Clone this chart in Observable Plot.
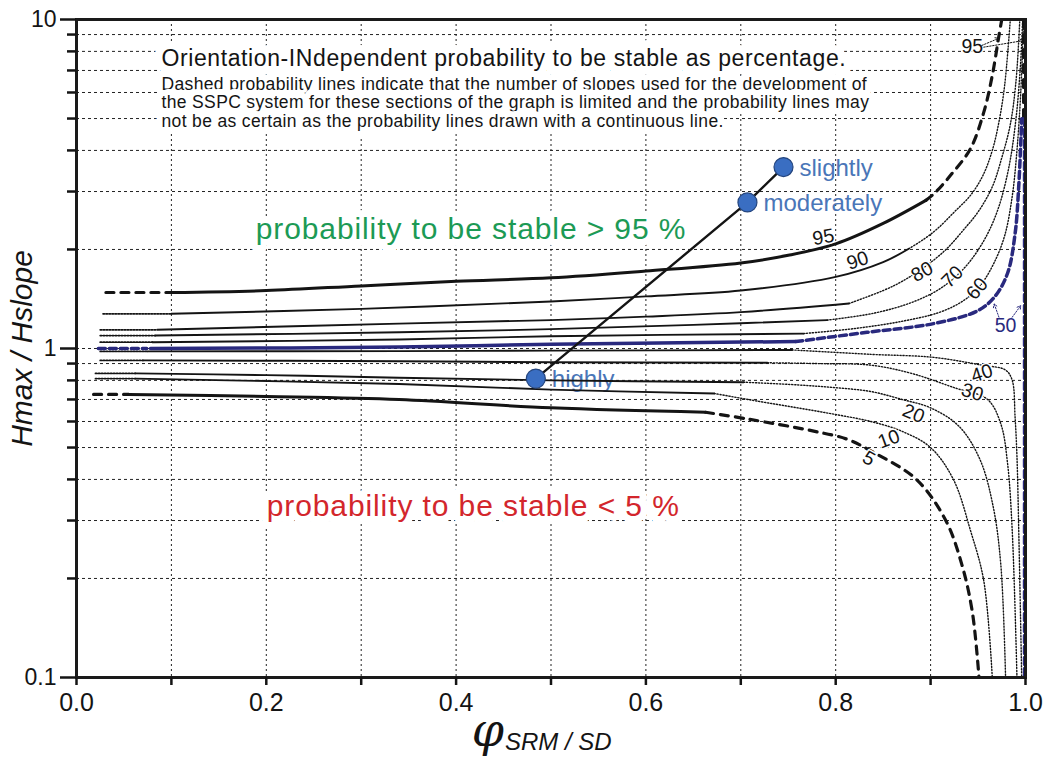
<!DOCTYPE html>
<html>
<head>
<meta charset="utf-8">
<script src="https://cdn.jsdelivr.net/npm/d3@7"></script>
<script src="https://cdn.jsdelivr.net/npm/@observablehq/plot@0.6"></script>
<style>
  body { margin: 0; background: #fff; }
  svg { display: block; }
</style>
</head>
<body>
<div id="chart"></div>
<script>
// ---------------- data ----------------
const xGrid = [0.1,0.2,0.3,0.4,0.5,0.6,0.7,0.8,0.9];
const yGrid = [0.2,0.3,0.4,0.5,0.6,0.7,0.8,0.9,1,2,3,4,5,6,7,8,9];
const yMinorTicks = [0.2,0.3,0.4,0.5,0.6,0.7,0.8,0.9,2,3,4,5,6,7,8,9];
const yMajorTicks = [0.1,1,10];
const xMajorTicks = [0,0.2,0.4,0.6,0.8,1.0];
const xMinorTicks = [0.1,0.3,0.5,0.7,0.9];

// 95 %
const c95_left  = [[0.031,1.48],[0.1,1.48]];
const c95_mid   = [[0.1,1.48],[0.2,1.50],[0.3,1.55],[0.4,1.60],[0.5,1.64],[0.6,1.72],[0.7,1.82],[0.75,1.92],[0.8,2.08],[0.85,2.40],[0.895,2.82]];
const c95_right = [[0.895,2.82],[0.905,2.98],[0.921,3.36],[0.942,4.05],[0.956,5.22],[0.965,6.76],[0.972,8.93],[0.975,10]];
const c95_edge  = [[0.998,10],[0.998,5.0]];
// 90 %
const c90_left  = [[0.028,1.275],[0.1,1.275]];
const c90_mid   = [[0.1,1.275],[0.3,1.32],[0.5,1.39],[0.6,1.44],[0.7,1.50],[0.8,1.65],[0.85,1.83],[0.877,2.01]];
const c90_right = [[0.877,2.01],[0.893,2.15],[0.907,2.31],[0.925,2.6],[0.942,2.92],[0.955,3.35],[0.965,4.0],[0.972,4.88],[0.978,6.3],[0.984,10]];
// 80 %
const c80_left  = [[0.025,1.14],[0.085,1.14]];
const c80_mid   = [[0.085,1.14],[0.34,1.19],[0.5,1.22],[0.6,1.25],[0.7,1.29],[0.814,1.37]];
const c80_right = [[0.814,1.37],[0.85,1.50],[0.87,1.60],[0.895,1.78],[0.917,2.01],[0.935,2.3],[0.95,2.6],[0.965,3.1],[0.975,3.8],[0.984,4.8],[0.99,6.5],[0.994,10]];
// 70 %
const c70_left  = [[0.025,1.095],[0.083,1.095]];
const c70_mid   = [[0.083,1.095],[0.34,1.12],[0.5,1.145],[0.65,1.18],[0.791,1.22]];
const c70_right = [[0.791,1.22],[0.84,1.28],[0.88,1.38],[0.91,1.52],[0.935,1.75],[0.955,2.1],[0.97,2.6],[0.982,3.5],[0.99,5],[0.995,7.5],[0.997,10]];
// 60 %
const c60_left  = [[0.025,1.045],[0.08,1.045]];
const c60_mid   = [[0.08,1.045],[0.34,1.065],[0.5,1.09],[0.766,1.11]];
const c60_right = [[0.766,1.11],[0.82,1.15],[0.87,1.21],[0.91,1.29],[0.935,1.40],[0.952,1.55],[0.966,1.8],[0.978,2.2],[0.986,2.9],[0.991,4],[0.995,6],[0.998,10]];
// 50 %
const c50_left  = [[0.023,1.0],[0.074,1.0]];
const c50_mid   = [[0.078,1.0],[0.34,1.01],[0.5,1.03],[0.758,1.05]];
const c50_right = [[0.758,1.05],[0.833,1.12],[0.903,1.19],[0.949,1.30],[0.967,1.43],[0.981,1.69],[0.989,2.23],[0.993,3.16],[0.996,4.99]];
const c50_edge  = [[0.999,5.0],[0.999,0.1]];
// 40 %
const c40_left  = [[0.025,0.98],[0.075,0.98]];
const c40_mid   = [[0.075,0.98],[0.34,0.982],[0.5,0.985],[0.754,0.99]];
const c40_right = [[0.754,0.99],[0.837,0.96],[0.903,0.94],[0.954,0.89],[0.979,0.86],[0.986,0.80],[0.989,0.62],[0.991,0.47],[0.993,0.27],[0.996,0.1]];
// 30 %
const c30_left  = [[0.025,0.92],[0.07,0.92]];
const c30_mid   = [[0.07,0.92],[0.34,0.915],[0.5,0.908],[0.728,0.905]];
const c30_right = [[0.728,0.905],[0.78,0.90],[0.837,0.89],[0.88,0.84],[0.925,0.76],[0.96,0.70],[0.974,0.59],[0.981,0.45],[0.986,0.28],[0.991,0.1]];
// 20 %
const c20_left  = [[0.02,0.84],[0.062,0.84]];
const c20_mid   = [[0.062,0.84],[0.2,0.83],[0.34,0.815],[0.5,0.80],[0.703,0.79]];
const c20_right = [[0.703,0.79],[0.76,0.775],[0.80,0.76],[0.837,0.74],[0.87,0.70],[0.90,0.66],[0.93,0.58],[0.952,0.46],[0.966,0.33],[0.974,0.22],[0.979,0.1]];
// 10 %
const c10_left  = [[0.02,0.81],[0.062,0.81]];
const c10_mid   = [[0.062,0.81],[0.34,0.78],[0.5,0.75],[0.672,0.73]];
const c10_right = [[0.672,0.73],[0.72,0.69],[0.76,0.66],[0.80,0.63],[0.837,0.60],[0.87,0.56],[0.90,0.50],[0.924,0.40],[0.942,0.28],[0.956,0.197],[0.965,0.1]];
// 5 %
const c5_left   = [[0.018,0.725],[0.055,0.725]];
const c5_mid    = [[0.055,0.725],[0.2,0.715],[0.34,0.70],[0.5,0.66],[0.663,0.64]];
const c5_right  = [[0.663,0.64],[0.708,0.61],[0.778,0.56],[0.812,0.53],[0.836,0.49],[0.885,0.40],[0.916,0.30],[0.933,0.22],[0.944,0.158],[0.951,0.1]];

// stability classes
const classNames = ["highly","moderately","slightly"];
const classX = [0.484,0.707,0.745];
const classY = [0.81,2.78,3.56];

// contour labels
const labelTexts = ["95","90","80","70","60","50","40","30","20","10","5","95"];
const labelX = [0.787,0.823,0.891,0.923,0.949,0.979,0.954,0.944,0.882,0.856,0.835,0.944];
const labelY = [2.18,1.85,1.71,1.65,1.52,1.175,0.84,0.736,0.634,0.53,0.463,8.24];
const labelAngle = [-10,-18,-28,-45,-50,0,-18,18,22,-20,30,0];
const labelBold = [true,false,false,false,false,true,false,false,false,false,true,true];

// label pointer arrows [x1,y1,x2,y2]
const arrows50 = [[0.972,1.245,0.967,1.367],[0.986,1.245,0.995,1.35]];
const arrows95 = [[0.954,8.34,0.972,8.77],[0.956,8.24,0.998,8.63]];

const titleText = "Orientation-INdependent probability to be stable as percentage.";
const noteLines = [
  "Dashed probability lines indicate that the number of slopes used for the development of",
  "the SSPC system for these sections of the graph is limited and the probability lines may",
  "not be as certain as the probability lines drawn with a continuous line."
];
const highText = "probability to be stable > 95 %";
const lowText = "probability to be stable < 5 %";

// ---------------- styles ----------------
const FONT = "'Liberation Sans', Arial, Helvetica, sans-serif";
const INK = "#141414";
const BLUE = "#29297e";
const sSolid = {stroke: INK, strokeWidth: 1.9};
const sSolidThick = {stroke: INK, strokeWidth: 3};
const sDotL = {stroke: INK, strokeWidth: 1.8, strokeDasharray: "1.4,1.6"};
const sDot = {stroke: INK, strokeWidth: 1.4, strokeDasharray: "1.2,1.8"};
const sDash = {stroke: INK, strokeWidth: 3.2, strokeDasharray: "8,7"};
const sBlue = {stroke: BLUE, strokeWidth: 3.5};
const sBlueDash = {stroke: BLUE, strokeWidth: 3.5, strokeDasharray: "7,4"};

const seg = (arr, st) => Plot.line(arr, {x: d => d[0], y: d => d[1], curve: "catmull-rom", ...st});

const contours = [
  seg(c95_left, sDash), seg(c95_mid, sSolidThick), seg(c95_right, sDash), seg(c95_edge, sDash),
  seg(c90_left, sDotL), seg(c90_mid, sSolid), seg(c90_right, sDot),
  seg(c80_left, sDotL), seg(c80_mid, sSolid), seg(c80_right, sDot),
  seg(c70_left, sDotL), seg(c70_mid, sSolid), seg(c70_right, sDot),
  seg(c60_left, sDotL), seg(c60_mid, sSolid), seg(c60_right, sDot),
  seg(c40_left, sDotL), seg(c40_mid, sSolid), seg(c40_right, sDot),
  seg(c30_left, sDotL), seg(c30_mid, sSolid), seg(c30_right, sDot),
  seg(c20_left, sDotL), seg(c20_mid, sSolid), seg(c20_right, sDot),
  seg(c10_left, sDotL), seg(c10_mid, sSolid), seg(c10_right, sDot),
  seg(c5_left, sDash), seg(c5_mid, sSolidThick), seg(c5_right, sDash),
  seg(c50_left, sBlueDash), seg(c50_mid, sBlue), seg(c50_right, sBlueDash), seg(c50_edge, sBlueDash)
];

const classIdx = classNames.map((_, i) => i);
const labIdx = labelTexts.map((_, i) => i);

const chart = Plot.plot({
  width: 1048,
  height: 763,
  marginLeft: 76,
  marginRight: 23,
  marginTop: 19,
  marginBottom: 86,
  style: {fontFamily: FONT, background: "#fff", color: INK},
  x: {domain: [0, 1]},
  y: {type: "log", domain: [0.1, 10]},
  marks: [
    // grid
    Plot.ruleY(yGrid, {stroke: "#222", strokeWidth: 1, strokeDasharray: "3,3"}),
    Plot.ruleX(xGrid, {stroke: "#222", strokeWidth: 1, strokeDasharray: "2,3"}),
    // text blocks with white background halo
    Plot.text([titleText], {frameAnchor: "top-left", dx: 85, dy: 39, lineAnchor: "middle",
      textAnchor: "start", fontSize: 23, fill: INK, stroke: "white", strokeWidth: 16}),
    Plot.text([noteLines.join("\n")], {frameAnchor: "top-left", dx: 85, dy: 57, lineAnchor: "top",
      textAnchor: "start", lineHeight: 1.06, fontSize: 17.5, fill: INK, stroke: "white", strokeWidth: 12}),
    Plot.text([highText], {x: 0.4157, y: 2.30, fontSize: 30, fill: "#1c9a55", stroke: "white", strokeWidth: 14}),
    Plot.text([lowText], {x: 0.418, y: 0.331, fontSize: 30, fill: "#d3262c", stroke: "white", strokeWidth: 14}),
    // class labels (under the contour lines)
    Plot.text(classIdx, {x: i => classX[i], y: i => classY[i], text: i => classNames[i], dx: 16, dy: 1,
      textAnchor: "start", fontSize: 24, fill: "#4a76b8"}),
    ...contours,
    // stability path
    Plot.line(classIdx, {x: i => classX[i], y: i => classY[i], stroke: INK, strokeWidth: 2.4}),
    Plot.dot(classIdx, {x: i => classX[i], y: i => classY[i], r: 9.5, fill: "#3a6ec2", stroke: "#24457e", strokeWidth: 1.2}),
    // contour labels
    Plot.text(labIdx, {x: i => labelX[i], y: i => labelY[i], text: i => labelTexts[i],
      rotate: i => labelAngle[i], fontSize: 19.5,
      fontWeight: i => labelBold[i] ? "bold" : "normal",
      fill: i => labelTexts[i] === "50" ? BLUE : INK,
      stroke: "white", strokeWidth: 3, paintOrder: "stroke"}),
    Plot.arrow(arrows50, {x1: d => d[0], y1: d => d[1], x2: d => d[2], y2: d => d[3],
      stroke: BLUE, strokeWidth: 1, strokeDasharray: "1.5,1.5", headLength: 6}),
    Plot.arrow(arrows95, {x1: d => d[0], y1: d => d[1], x2: d => d[2], y2: d => d[3],
      stroke: INK, strokeWidth: 1, strokeDasharray: "1.5,1.5", headLength: 6}),
    // frame & axes
    Plot.frame({stroke: "#1a1a1a", strokeWidth: 3}),
    Plot.axisY({ticks: yMinorTicks, tickSize: 9, strokeWidth: 2.5, tickFormat: () => "", label: null}),
    Plot.axisY({ticks: yMajorTicks, tickSize: 16, strokeWidth: 2.5, tickPadding: 4,
      tickFormat: d => (d < 1 ? "0.1" : String(d)), fontSize: 23, label: null}),
    Plot.axisX({ticks: xMinorTicks, tickSize: 8, strokeWidth: 2.5, tickFormat: () => "", label: null}),
    Plot.axisX({ticks: xMajorTicks, tickSize: 8, strokeWidth: 2.5, tickPadding: 8,
      tickFormat: d => d.toFixed(1), fontSize: 25, label: null}),
    // axis titles
    Plot.text(["Hmax / Hslope"], {frameAnchor: "left", dx: -54, rotate: -90, textAnchor: "middle",
      fontSize: 30, fontStyle: "italic", fill: INK}),
    Plot.text(["\u03C6"], {frameAnchor: "bottom", dx: -47, dy: 68, textAnchor: "end",
      fontSize: 46, fontStyle: "italic", fontFamily: "'DejaVu Serif', 'Liberation Serif', serif", fill: INK}),
    Plot.text(["SRM / SD"], {frameAnchor: "bottom", dx: -46, dy: 72, textAnchor: "start",
      fontSize: 24, fontStyle: "italic", fill: INK})
  ]
});
// letter spacing tweaks for the annotation blocks
const spacing = (pred, v) => d3.select(chart).selectAll("text")
  .filter(function() { return pred(this.textContent); })
  .style("letter-spacing", v);
spacing(t => t === titleText, "0.6px");
spacing(t => t.startsWith("Dashed probability"), "0.35px");
spacing(t => t === highText || t === lowText, "0.9px");
document.getElementById("chart").appendChild(chart);
</script>
</body>
</html>
